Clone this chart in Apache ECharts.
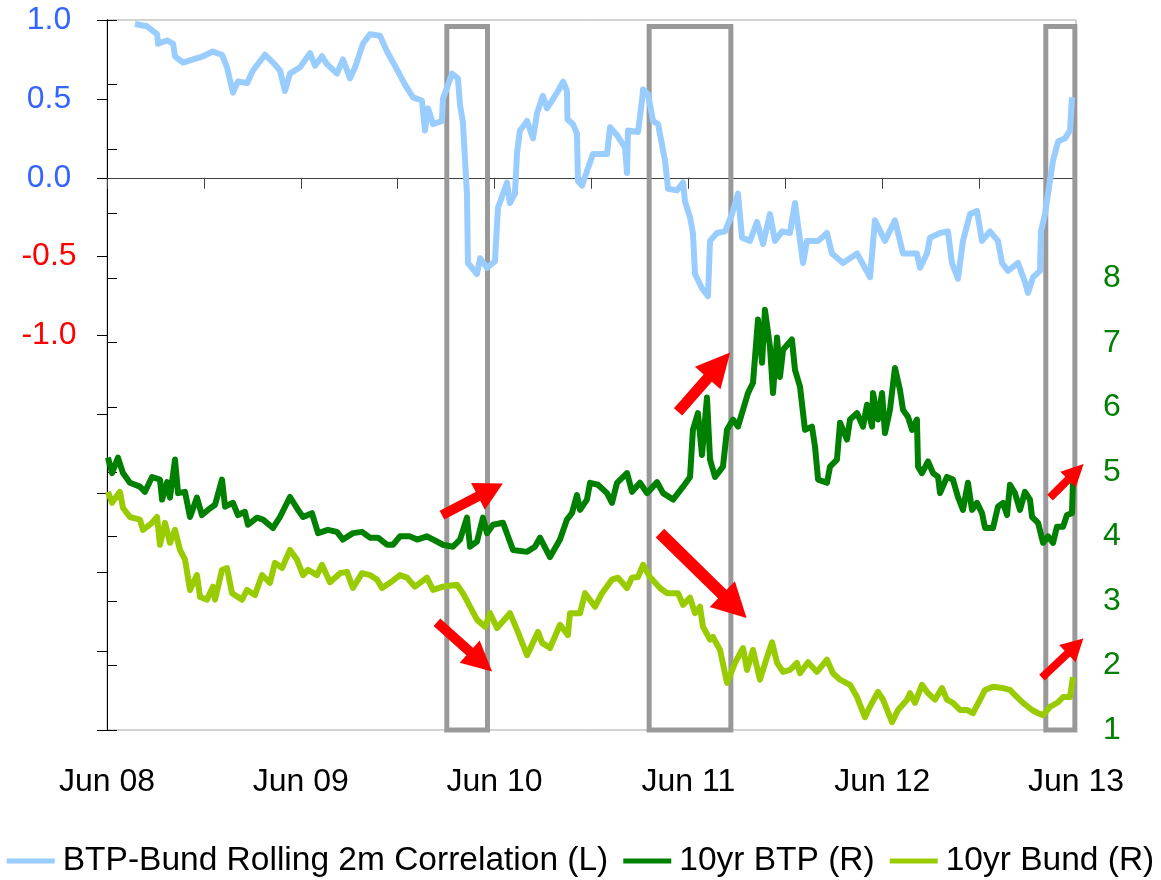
<!DOCTYPE html>
<html>
<head>
<meta charset="utf-8">
<title>BTP-Bund correlation and 10yr yields</title>
<script src="https://cdn.jsdelivr.net/npm/echarts@6/dist/echarts.min.js"></script>
<style>
  html, body { margin: 0; padding: 0; background: #fff; }
  #chart { width: 1161px; height: 880px; }
</style>
</head>
<body>
<div id="chart"></div>
<script>
// x values are months elapsed since June 2008
const xTickLabels = ['Jun 08', 'Jun 09', 'Jun 10', 'Jun 11', 'Jun 12', 'Jun 13'];
const leftTickLabels = ['1.0', '0.5', '0.0', '-0.5', '-1.0'];
const rightTickLabels = ['1', '2', '3', '4', '5', '6', '7', '8'];

// BTP-Bund rolling 2m correlation (left axis)
const corrMonths = [1.73,2.48,3.10,3.16,3.72,4.09,4.21,4.71,5.33,5.94,
  6.56,7.12,7.43,7.80,8.11,8.67,9.04,9.78,10.28,10.71,
  11.02,11.33,11.95,12.57,12.88,13.31,13.62,14.24,14.61,15.05,
  15.36,15.85,16.28,16.90,17.34,17.83,18.45,18.95,19.50,19.69,
  19.88,20.19,20.74,20.80,21.36,21.73,21.86,22.04,22.29,22.35,
  22.91,23.10,23.53,24.02,24.21,24.77,24.95,25.26,25.39,25.57,
  26.01,26.38,26.63,26.99,27.24,27.62,27.93,28.24,28.48,28.51,
  28.85,29.10,29.16,29.41,29.78,30.09,30.96,31.15,31.58,32.08,
  32.20,32.26,32.88,33.13,33.19,33.50,33.81,34.12,34.55,34.74,
  35.29,35.67,35.79,36.10,36.28,36.41,36.84,37.21,37.34,37.77,
  38.27,38.70,39.07,39.32,39.81,40.25,40.62,41.05,41.36,41.80,
  42.29,42.60,43.10,43.34,44.03,44.58,44.89,45.57,46.44,47.25,
  47.55,48.17,48.79,49.29,50.15,50.34,50.77,50.96,51.58,52.07,
  52.32,52.69,53.00,53.44,53.87,54.18,54.67,55.17,55.42,55.79,
  56.41,56.84,57.03,57.34,57.77,57.83,58.08,58.27,58.58,58.89,
  59.32,59.63,59.75];
const corrValues = [0.975,0.96,0.91,0.85,0.87,0.85,0.77,0.73,0.75,0.77,
  0.80,0.78,0.70,0.54,0.61,0.60,0.68,0.78,0.73,0.68,
  0.55,0.66,0.70,0.79,0.71,0.77,0.72,0.66,0.75,0.63,
  0.70,0.85,0.91,0.90,0.80,0.71,0.59,0.51,0.49,0.30,
  0.44,0.34,0.36,0.50,0.66,0.63,0.46,0.35,-0.11,-0.54,
  -0.61,-0.51,-0.57,-0.53,-0.19,-0.03,-0.16,-0.10,0.16,0.30,
  0.36,0.25,0.41,0.52,0.44,0.50,0.55,0.61,0.55,0.37,
  0.34,0.28,-0.02,-0.05,0.06,0.15,0.15,0.32,0.27,0.19,
  0.03,0.30,0.29,0.49,0.56,0.53,0.36,0.34,0.11,-0.07,
  -0.08,-0.03,-0.15,-0.25,-0.35,-0.61,-0.70,-0.75,-0.40,-0.35,
  -0.34,-0.23,-0.10,-0.38,-0.40,-0.28,-0.42,-0.23,-0.40,-0.34,
  -0.35,-0.16,-0.54,-0.40,-0.40,-0.35,-0.48,-0.54,-0.48,-0.63,
  -0.27,-0.40,-0.27,-0.48,-0.48,-0.57,-0.48,-0.38,-0.35,-0.34,
  -0.54,-0.64,-0.40,-0.23,-0.21,-0.40,-0.34,-0.40,-0.54,-0.59,
  -0.54,-0.66,-0.73,-0.63,-0.59,-0.34,-0.23,-0.10,0.11,0.23,
  0.25,0.30,0.51];

// 10yr BTP yield, % (right axis)
const btpMonths = [0.06,0.31,0.68,0.99,1.42,2.04,2.35,2.79,3.28,3.41,
  3.72,3.90,4.21,4.40,4.83,5.14,5.57,5.88,6.25,6.69,
  7.12,7.31,7.80,8.11,8.54,8.73,9.29,9.66,10.28,10.71,
  11.33,11.83,12.14,12.69,13.07,13.68,14.24,14.61,15.23,15.79,
  16.28,16.78,17.34,17.71,18.14,18.76,19.20,19.81,20.43,20.80,
  21.42,21.86,22.29,22.48,22.91,23.28,23.53,23.90,24.52,25.14,
  26.01,26.50,26.81,27.43,28.05,28.48,28.79,29.10,29.29,29.72,
  29.91,30.40,30.96,31.27,31.58,32.20,32.51,33.00,33.44,34.06,
  34.43,35.05,35.67,36.10,36.28,36.59,36.84,37.15,37.34,37.65,
  38.14,38.39,38.76,39.07,39.38,39.69,40.00,40.31,40.56,40.74,
  41.05,41.24,41.49,41.67,41.86,42.41,42.60,42.91,43.22,43.65,
  43.84,44.03,44.58,44.77,45.20,45.39,45.82,46.01,46.44,46.81,
  47.06,47.37,47.43,47.74,47.99,48.17,48.48,48.79,49.10,49.29,
  49.60,49.85,50.15,50.22,50.46,50.84,51.15,51.46,51.58,52.01,
  52.38,52.69,53.00,53.31,53.56,53.87,54.18,54.37,54.86,55.17,
  55.48,55.73,55.91,56.22,56.53,56.84,57.15,57.28,57.65,57.96,
  58.27,58.58,58.82,59.20,59.44,59.75,59.81];
const btpValues = [5.22,4.98,5.22,4.98,4.83,4.77,4.69,4.92,4.88,4.57,
  4.84,4.60,5.19,4.67,4.69,4.30,4.60,4.33,4.41,4.49,
  4.88,4.46,4.52,4.33,4.38,4.18,4.29,4.26,4.13,4.30,
  4.61,4.41,4.30,4.36,4.05,4.10,4.07,3.95,4.05,4.07,
  3.98,3.98,3.87,3.87,4.00,4.00,3.95,4.00,3.92,3.87,
  3.84,3.95,4.29,3.84,3.92,4.29,4.05,4.18,4.21,3.79,
  3.76,3.84,3.98,3.68,3.95,4.26,4.36,4.64,4.41,4.57,
  4.83,4.80,4.67,4.52,4.83,4.98,4.69,4.83,4.67,4.84,
  4.67,4.57,4.77,4.92,5.65,5.91,5.26,6.15,5.19,4.92,
  5.08,5.65,5.81,5.70,5.96,6.22,6.38,7.36,6.69,7.51,
  6.94,6.22,7.08,6.47,6.89,7.05,6.58,6.32,5.65,5.70,
  5.39,4.88,4.83,5.08,5.19,5.76,5.50,5.81,5.91,5.70,
  6.04,5.70,6.22,5.81,6.22,5.60,5.96,6.61,6.27,5.96,
  5.85,5.65,5.81,5.08,4.98,5.16,4.98,4.92,4.67,4.92,
  4.88,4.61,4.41,4.83,4.41,4.52,4.36,4.13,4.13,4.46,
  4.52,4.33,4.80,4.67,4.41,4.69,4.57,4.30,4.21,3.90,
  4.00,3.90,4.15,4.15,4.33,4.36,4.83];

// 10yr Bund yield, % (right axis)
const bundMonths = [0.06,0.31,0.80,0.99,1.42,2.04,2.23,2.79,3.10,3.28,
  3.59,3.90,4.21,4.52,4.83,5.14,5.57,5.76,6.19,6.56,
  6.69,7.12,7.43,7.74,8.36,8.67,9.16,9.60,10.09,10.40,
  10.84,11.33,11.76,12.14,12.45,13.00,13.31,13.81,14.43,14.86,
  15.23,15.79,16.28,16.72,17.03,17.52,18.14,18.58,19.07,19.81,
  20.19,20.80,21.67,22.04,22.48,22.91,23.41,23.72,24.15,24.95,
  25.39,26.01,26.69,26.94,27.43,28.05,28.54,28.67,29.29,29.60,
  30.22,30.65,31.27,31.64,32.20,32.51,32.88,33.19,33.62,34.24,
  34.67,35.36,35.67,36.10,36.41,36.72,36.90,37.34,37.52,37.96,
  38.39,38.89,39.38,39.63,40.00,40.43,40.87,41.18,41.49,41.86,
  42.29,42.72,42.91,43.41,43.96,44.58,44.95,45.39,46.01,46.44,
  46.93,47.24,47.74,48.05,48.61,48.98,49.54,49.72,50.03,50.46,
  50.84,51.27,51.70,52.01,52.38,52.82,53.25,53.62,54.06,54.37,
  54.86,55.48,55.91,56.35,56.72,57.28,57.65,57.96,58.39,58.89,
  59.20,59.63,59.81];
const bundValues = [4.69,4.52,4.69,4.44,4.30,4.26,4.10,4.21,4.30,3.87,
  4.21,3.90,4.10,3.79,3.64,3.17,3.40,3.06,3.02,3.22,
  3.02,3.48,3.51,3.12,3.02,3.17,3.09,3.40,3.28,3.59,
  3.51,3.79,3.64,3.40,3.48,3.40,3.56,3.29,3.43,3.45,
  3.20,3.43,3.40,3.33,3.20,3.28,3.40,3.36,3.22,3.36,
  3.17,3.22,3.25,3.12,2.91,2.71,2.60,2.81,2.58,2.81,
  2.55,2.16,2.52,2.35,2.27,2.63,2.47,2.81,2.81,3.12,
  2.91,3.12,3.33,3.36,3.20,3.36,3.37,3.56,3.37,3.20,
  3.12,3.12,2.94,3.05,2.81,2.91,2.60,2.40,2.44,2.24,
  1.73,2.04,2.27,1.93,2.24,1.78,2.13,2.36,2.04,1.90,
  1.93,2.04,1.88,2.05,1.90,2.09,1.88,1.78,1.70,1.51,
  1.20,1.36,1.59,1.47,1.12,1.31,1.47,1.57,1.42,1.70,
  1.57,1.47,1.65,1.47,1.42,1.31,1.31,1.26,1.47,1.62,
  1.67,1.65,1.62,1.51,1.42,1.31,1.26,1.23,1.36,1.43,
  1.51,1.51,1.82];

// Highlighted episodes: [start month, end month]
const episodeStart = [21.04, 33.57, 58.13];
const episodeEnd = [23.56, 38.63, 59.93];

// Direction arrows on the yield scale: start and head-centre points
const arrowFrom = [[20.74, 4.33], [20.43, 2.67], [35.36, 5.93], [34.24, 4.05], [58.39, 4.60], [57.89, 1.81]];
const arrowTo = [[23.74, 4.72], [23.15, 2.06], [37.89, 6.65], [38.85, 2.92], [59.99, 5.00], [59.96, 2.30]];
const arrowHead = [[30, 28], [30, 30], [34, 34], [36, 34], [22, 22], [24, 22]];
const arrowWidth = [10, 10, 11, 12, 8, 8];

const FONT = "'Liberation Sans', Arial, sans-serif";
const pairs = (xs, ys) => xs.map((x, i) => [x, ys[i]]);

const chart = echarts.init(document.getElementById('chart'), null, { renderer: 'canvas' });

const option = {
  animation: false,
  backgroundColor: '#ffffff',
  textStyle: { fontFamily: FONT },
  grid: {
    left: 107, right: 85, top: 20, bottom: 150,
    show: true, borderColor: '#a6a6a6', borderWidth: 1,
    backgroundColor: 'transparent'
  },
  legend: {
    data: ['BTP-Bund Rolling 2m Correlation (L)', '10yr BTP (R)', '10yr Bund (R)'],
    left: 'center', top: 844, width: 1161, padding: 0,
    icon: 'rect', itemWidth: 48, itemHeight: 5, itemGap: 15,
    textStyle: { fontFamily: FONT, fontSize: 33.5, color: '#000', padding: [0, 0, 0, 3] },
    selectedMode: false
  },
  xAxis: [
    {
      // axis drawn through zero of the correlation scale
      type: 'value', min: 0, max: 60, interval: 6,
      axisLine: { onZero: true, onZeroAxisIndex: 0, lineStyle: { color: '#404040', width: 1 } },
      axisTick: { show: true, length: 11, lineStyle: { color: '#404040' } },
      axisLabel: { show: false },
      splitLine: { show: false }
    },
    {
      type: 'value', min: 0, max: 60, interval: 12, position: 'bottom',
      axisLine: { show: false, onZero: false },
      axisTick: { show: false },
      splitLine: { show: false },
      axisLabel: {
        show: true, margin: 36, fontSize: 32, color: '#000', fontFamily: FONT,
        showMinLabel: true, showMaxLabel: true,
        formatter: v => xTickLabels[Math.round(v / 12)] || ''
      }
    }
  ],
  yAxis: [
    {
      type: 'value', min: -3.5, max: 1.0, interval: 0.5, position: 'left',
      axisLine: { show: true, lineStyle: { color: '#000', width: 1 } },
      axisTick: { show: true, length: 10, lineStyle: { color: '#000' } },
      splitLine: { show: false },
      axisLabel: {
        margin: 58, align: 'center', fontSize: 32, fontFamily: FONT,
        formatter: v => {
          const s = v.toFixed(1);
          return leftTickLabels.includes(s) ? s : '';
        },
        color: v => (Number(v) < 0 ? '#ff0000' : '#3366ff')
      }
    },
    {
      type: 'value', min: 1, max: 12, interval: 1, position: 'right',
      axisLine: { show: true, lineStyle: { color: '#000', width: 1 } },
      axisTick: { show: true, length: 10, lineStyle: { color: '#000' } },
      splitLine: { show: false },
      axisLabel: {
        margin: 27, fontSize: 32, fontFamily: FONT, color: '#008000',
        formatter: v => (rightTickLabels.includes(String(v)) ? String(v) : '')
      }
    }
  ],
  series: [
    {
      name: 'BTP-Bund Rolling 2m Correlation (L)',
      type: 'line', xAxisIndex: 0, yAxisIndex: 0,
      data: pairs(corrMonths, corrValues),
      showSymbol: false, symbol: 'none',
      lineStyle: { color: '#99ccff', width: 6, join: 'round' },
      itemStyle: { color: '#99ccff' },
      z: 2
    },
    {
      name: '10yr BTP (R)',
      type: 'line', xAxisIndex: 0, yAxisIndex: 1,
      data: pairs(btpMonths, btpValues),
      showSymbol: false, symbol: 'none',
      lineStyle: { color: '#008000', width: 6, join: 'round' },
      itemStyle: { color: '#008000' },
      z: 2
    },
    {
      name: '10yr Bund (R)',
      type: 'line', xAxisIndex: 0, yAxisIndex: 1,
      data: pairs(bundMonths, bundValues),
      showSymbol: false, symbol: 'none',
      lineStyle: { color: '#99cc00', width: 6, join: 'round' },
      itemStyle: { color: '#99cc00' },
      z: 2
    },
    {
      name: 'episodes',
      type: 'line', xAxisIndex: 0, yAxisIndex: 0, data: [], clip: false, silent: true,
      markArea: {
        silent: true,
        itemStyle: { color: 'rgba(0,0,0,0)', borderColor: '#999999', borderWidth: 5 },
        label: { show: false },
        data: episodeStart.map((s, i) => [
          { coord: [s, 0.959] },
          { coord: [episodeEnd[i], -3.513] }
        ])
      },
      z: 3
    },
    {
      name: 'arrows',
      type: 'line', xAxisIndex: 0, yAxisIndex: 1, data: [], clip: false, silent: true,
      markLine: {
        silent: true,
        animation: false,
        label: { show: false },
        emphasis: { disabled: true },
        lineStyle: { color: '#ff0000', type: 'solid', width: 10, cap: 'butt' },
        data: arrowFrom.map((p, i) => [
          { coord: p, symbol: 'none', lineStyle: { color: '#ff0000', type: 'solid', width: arrowWidth[i] } },
          { coord: arrowTo[i], symbol: 'triangle', symbolSize: arrowHead[i] }
        ])
      },
      z: 5
    }
  ]
};

chart.setOption(option);
</script>
</body>
</html>
